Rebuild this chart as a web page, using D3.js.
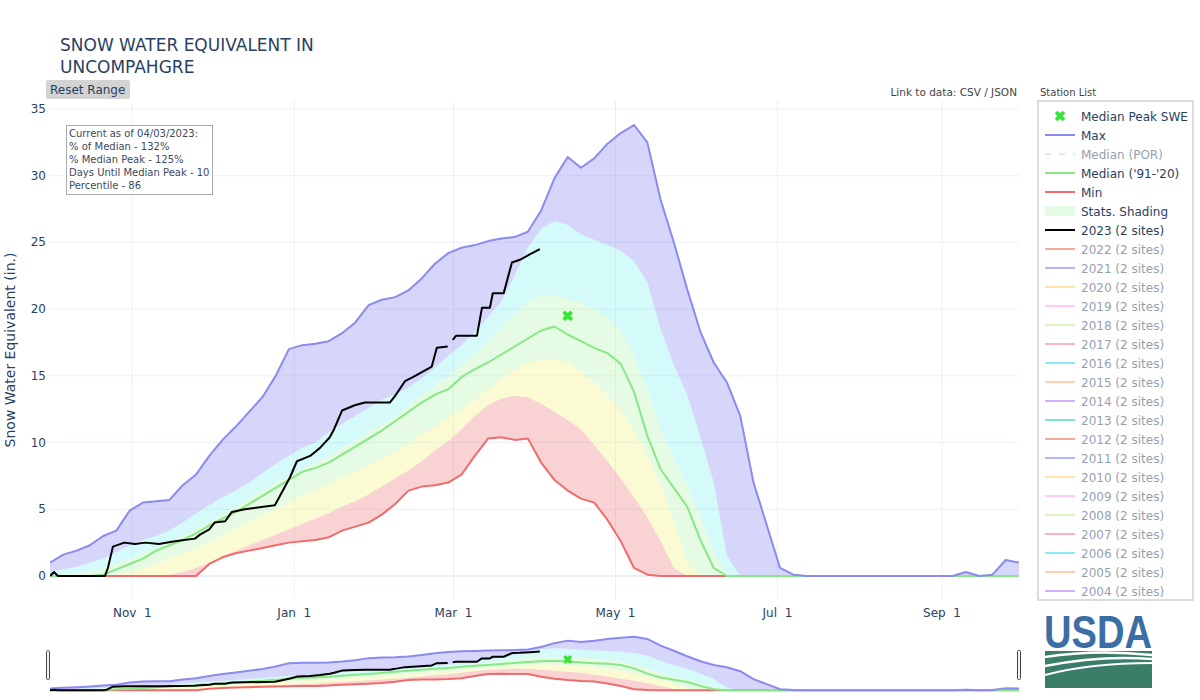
<!DOCTYPE html>
<html><head><meta charset="utf-8">
<script src="https://cdn.jsdelivr.net/npm/d3@7"></script>
<style>
body{margin:0;background:#fff;}
svg{font-family:"DejaVu Sans",Verdana,sans-serif;}
</style>
</head><body>
<svg id="c" width="1200" height="700"></svg>
<script>
// ---------- DATA (day = days since Oct 1 of the water year) ----------
const days = [0,5,10,15,20,25,30,35,40,45,
  50,55,60,65,70,75,80,85,90,95,
  100,105,110,115,120,125,130,135,140,145,
  150,155,160,165,170,175,180,185,190,195,
  200,205,210,215,220,225,230,235,240,245,
  250,255,260,265,270,275,280,285,290,295,
  300,305,310,315,320,325,330,335,340,345,
  350,355,360,365];
const maxSWE = [1.0,1.6,1.9,2.3,3.0,3.4,4.9,5.5,5.6,5.7,
  6.8,7.6,9.0,10.2,11.2,12.3,13.4,15.0,17.0,17.3,
  17.4,17.6,18.2,19.0,20.3,20.7,20.9,21.4,22.3,23.4,
  24.2,24.6,24.8,25.1,25.3,25.4,25.8,27.4,29.8,31.4,
  30.6,31.3,32.4,33.2,33.8,32.5,28.2,25.0,21.5,18.3,
  16.0,14.5,12.0,7.0,3.8,0.6,0.1,0,0,0,
  0,0,0,0,0,0,0,0,0,0.3,
  0,0.1,1.2,1.0];
const p90 = [0.3,0.5,0.7,1.0,1.3,1.8,2.3,2.7,3.0,3.4,
  4.0,4.7,5.3,5.9,6.4,7.0,7.7,8.4,9.0,9.6,
  10.0,10.8,11.4,12.0,12.6,13.2,13.6,14.1,14.8,15.6,
  16.5,17.3,18.3,19.4,20.6,22.5,24.6,26.0,26.6,26.3,
  25.6,25.2,24.8,24.4,23.6,22.0,18.5,15.8,13.6,10.4,
  7.0,1.5,0,0,0,0,0,0,0,0,
  0,0,0,0,0,0,0,0,0,0,
  0,0,0,0];
const p70 = [0,0.1,0.2,0.4,0.6,0.9,1.3,1.7,2.1,2.5,
  3.0,3.5,4.0,4.6,5.2,5.8,6.4,7.0,7.5,8.0,
  8.5,9.0,9.6,10.2,10.8,11.4,12.0,12.7,13.5,14.3,
  15.0,15.8,16.6,17.6,18.6,19.6,20.6,21.1,21.0,20.8,
  20.5,20.0,19.3,18.3,16.5,14.0,11.0,8.8,6.8,4.5,
  1.8,0,0,0,0,0,0,0,0,0,
  0,0,0,0,0,0,0,0,0,0,
  0,0,0,0];
const median = [0,0,0,0,0.1,0.5,0.9,1.3,1.9,2.3,
  2.7,3.2,3.8,4.3,4.8,5.4,6.0,6.6,7.2,7.8,
  8.1,8.5,9.1,9.7,10.3,10.9,11.6,12.3,13.0,13.6,
  14.0,14.9,15.5,16.0,16.6,17.2,17.8,18.4,18.7,18.1,
  17.6,17.1,16.7,15.9,13.8,10.5,8.0,6.6,5.2,2.7,
  0.6,0,0,0,0,0,0,0,0,0,
  0,0,0,0,0,0,0,0,0,0,
  0,0,0,0];
const p30 = [0,0,0,0,0,0.1,0.3,0.6,0.9,1.3,
  1.7,2.1,2.5,3.0,3.5,4.0,4.5,5.0,5.5,6.0,
  6.4,6.9,7.4,7.8,8.3,8.8,9.3,9.9,10.6,11.2,
  11.8,12.5,13.2,14.0,14.8,15.5,16.0,16.2,16.3,16.0,
  15.3,14.5,13.5,12.4,10.9,9.0,6.8,4.0,1.0,0,
  0,0,0,0,0,0,0,0,0,0,
  0,0,0,0,0,0,0,0,0,0,
  0,0,0,0];
const p10 = [0,0,0,0,0,0,0,0,0,0.1,
  0.3,0.6,1.0,1.5,1.9,2.3,2.7,3.1,3.5,3.9,
  4.3,4.7,5.2,5.6,6.1,6.7,7.3,7.9,8.6,9.4,
  10.1,11.0,12.0,12.8,13.3,13.5,13.4,12.9,12.3,11.7,
  11.0,9.8,8.6,7.3,5.9,4.4,2.6,0.6,0,0,
  0,0,0,0,0,0,0,0,0,0,
  0,0,0,0,0,0,0,0,0,0,
  0,0,0,0];
const minSWE = [0,0,0,0,0,0,0,0,0,0,
  0,0,0.9,1.4,1.7,1.9,2.1,2.3,2.5,2.6,
  2.7,2.9,3.4,3.7,4.0,4.6,5.4,6.4,6.7,6.8,
  7.0,7.6,9.0,10.3,10.4,10.2,10.3,8.5,7.2,6.4,
  5.8,5.5,4.2,2.6,0.6,0.1,0,0,0,0,
  0,0,0,0,0,0,0,0,0,0,
  0,0,0,0,0,0,0,0,0,0,
  0,0,0,0];
const days2023 = [0,1.5,3,20.7,21.8,23.7,28,32,36,41,47,54.6,56.5,60,62,66,68.5,73.4,84.7,86.6,
  90.4,93,98,101.7,105.4,107,110,114.8,118.6,128,130,133.7,136.7,143.8,145.7,149.8,150.7,151.7,152.9,160.8,
  162.7,165.7,166.8,170.9,174,177,180.7,184.5];
const swe2023 = [0,0.3,0,0,0.6,2.2,2.5,2.4,2.5,2.4,2.6,2.8,3.1,3.5,4.0,4.1,4.8,5.0,5.3,6.0,
  7.4,8.6,9.0,9.6,10.4,11.0,12.4,12.8,13.0,13.0,13.5,14.6,14.9,15.7,17.1,17.2,null,17.7,18.0,18.0,
  20.1,20.1,21.2,21.2,23.5,23.7,24.1,24.5];
const medianPeakDay = 195, medianPeakSWE = 19.5;

const xTickDates = ["2019-11-01","2020-01-01","2020-03-01","2020-05-01","2020-07-01","2020-09-01"];
const yTicks = [0,5,10,15,20,25,30,35];
const infoLines = ["Current as of 04/03/2023:","% of Median - 132%","% Median Peak - 125%","Days Until Median Peak - 10","Percentile - 86"];
const legendMain = ["Median Peak SWE","Max","Median (POR)","Median ('91-'20)","Min","Stats. Shading","2023 (2 sites)"];
const legendYears = [2022,2021,2020,2019,2018,2017,2016,2015,2014,2013,2012,2011,2010,2009,2008,2007,2006,2005,2004];
const yearColors = ["#EF553B","#636efa","#FECB52","#FF97FF","#B6E880","#FF6692","#19d3f3","#FFA15A","#ab63fa","#00cc96",
  "#EF553B","#636efa","#FECB52","#FF97FF","#B6E880","#FF6692","#19d3f3","#FFA15A","#ab63fa"];

// ---------- STYLE ----------
const C = {
  max:"#8a8af0", median:"#86e886", min:"#f06c6c", cur:"#000000", peak:"#33e633",
  bMax:"rgba(118,118,238,0.3)", b90:"rgba(112,238,238,0.3)", b70:"rgba(172,242,162,0.3)",
  b30:"rgba(242,242,108,0.3)", b10:"rgba(235,108,108,0.3)",
  grid:"#ebf0f8", text:"#2a3f5f"
};

const svg = d3.select("#c");
const start = new Date(2019,9,1);
const toDate = d => new Date(start.getTime() + d*86400000);
const x = d3.scaleTime().domain([start, new Date(2020,8,30)]).range([50,1019]);
const y = d3.scaleLinear().domain([-1.8,35.6]).range([600,101]);
const yMini = d3.scaleLinear().domain([-1.8,35.6]).range([693,634]);

const defs = svg.append("defs");
defs.append("clipPath").attr("id","clipMain").append("rect").attr("x",50).attr("y",101).attr("width",969).attr("height",499);
defs.append("clipPath").attr("id","clipMini").append("rect").attr("x",50).attr("y",632).attr("width",969).attr("height",62);

// gridlines
const grid = svg.append("g");
yTicks.forEach(t=>{
  grid.append("line").attr("x1",50).attr("x2",1019).attr("y1",y(t)).attr("y2",y(t))
    .attr("stroke",C.grid).attr("stroke-width", t===0?2:1);
});
xTickDates.forEach(s=>{
  const xx = x(d3.timeParse("%Y-%m-%d")(s));
  grid.append("line").attr("x1",xx).attr("x2",xx).attr("y1",101).attr("y2",600).attr("stroke",C.grid);
});

function drawAll(g, ys, isMini){
  const pts = arr => days.map((d,i)=>[d,arr[i]]);
  const line = d3.line().x(p=>x(toDate(p[0]))).y(p=>ys(p[1])).defined(p=>p[1]!==null);
  const band = (up, lo) => {
    const a = line(pts(up));
    const b = line(pts(lo).slice().reverse());
    return a + "L" + b.slice(1) + "Z";
  };
  g.append("path").attr("d",band(maxSWE,p90)).attr("fill",C.bMax);
  g.append("path").attr("d",band(p90,p70)).attr("fill",C.b90);
  g.append("path").attr("d",band(p70,p30)).attr("fill",C.b70);
  g.append("path").attr("d",band(p30,p10)).attr("fill",C.b30);
  g.append("path").attr("d",band(p10,minSWE)).attr("fill",C.b10);
  const ln = (arr,col) => g.append("path").attr("d",line(pts(arr))).attr("fill","none")
      .attr("stroke",col).attr("stroke-width",2).attr("stroke-linejoin","round");
  ln(minSWE,C.min);
  ln(median,C.median);
  ln(maxSWE,C.max);
  g.append("path").attr("d",line(days2023.map((d,i)=>[d,swe2023[i]]))).attr("fill","none")
    .attr("stroke",C.cur).attr("stroke-width",2).attr("stroke-linejoin","round");
  g.append("path").attr("d",d3.symbol(d3.symbolCross, isMini?50:70)())
    .attr("transform",`translate(${x(toDate(medianPeakDay))},${ys(medianPeakSWE)}) rotate(45)`)
    .attr("fill",C.peak);
}
drawAll(svg.append("g").attr("clip-path","url(#clipMain)"), y, false);
drawAll(svg.append("g").attr("clip-path","url(#clipMini)"), yMini, true);

// axes labels
const fmt = d3.timeFormat("%b %e");
const ax = svg.append("g").attr("font-size",12).attr("fill",C.text);
xTickDates.forEach(s=>{
  const dt = d3.timeParse("%Y-%m-%d")(s);
  ax.append("text").attr("x",x(dt)).attr("y",617).attr("text-anchor","middle")
    .attr("xml:space","preserve").style("white-space","pre").text(fmt(dt));
});
yTicks.forEach(t=>{
  ax.append("text").attr("x",46).attr("y",y(t)+4).attr("text-anchor","end").text(t);
});
svg.append("text").attr("transform","translate(15,350) rotate(-90)").attr("text-anchor","middle")
  .attr("font-size",14).attr("fill",C.text).text("Snow Water Equivalent (in.)");

// title
const tt = svg.append("text").attr("font-size",17).attr("fill",C.text);
tt.append("tspan").attr("x",60).attr("y",51).text("SNOW WATER EQUIVALENT IN");
tt.append("tspan").attr("x",60).attr("y",73).text("UNCOMPAHGRE");

// reset button
svg.append("rect").attr("x",46).attr("y",80).attr("width",84).attr("height",19).attr("rx",2).attr("fill","#d3d3d3");
svg.append("text").attr("x",50).attr("y",94).attr("font-size",12).attr("fill",C.text).text("Reset Range");

// link text & station list
svg.append("text").attr("x",1017).attr("y",96).attr("font-size",10.5).attr("text-anchor","end").attr("fill","#444").text("Link to data: CSV / JSON");
svg.append("text").attr("x",1040).attr("y",96).attr("font-size",10).attr("fill","#444").text("Station List");

// info box
svg.append("rect").attr("x",66.5).attr("y",125.5).attr("width",146).attr("height",69).attr("fill","#fff").attr("stroke","#aaa");
infoLines.forEach((t,i)=>svg.append("text").attr("x",69).attr("y",137+i*13).attr("font-size",10).attr("fill","#3c4a5e").text(t));

// legend
const lg = svg.append("g");
lg.append("rect").attr("x",1038).attr("y",101).attr("width",155).attr("height",499).attr("fill","#fff").attr("stroke","#dcdcdc").attr("stroke-width",2);
const rowY = i => 116 + i*19;
legendMain.forEach((name,i)=>{
  const yy = rowY(i);
  const hidden = name==="Median (POR)";
  const it = lg.append("g").attr("opacity", hidden?0.5:1);
  if(i===0){
    it.append("path").attr("d",d3.symbol(d3.symbolCross,70)()).attr("transform",`translate(1060,${yy}) rotate(45)`).attr("fill",C.peak);
  } else if(name==="Stats. Shading"){
    it.append("rect").attr("x",1045).attr("y",yy-5).attr("width",30).attr("height",10).attr("fill","#e6fbe6");
  } else {
    const col = {"Max":C.max,"Median (POR)":"#a8f0a8","Median ('91-'20)":C.median,"Min":C.min,"2023 (2 sites)":C.cur}[name];
    it.append("line").attr("x1",1045).attr("x2",1075).attr("y1",yy).attr("y2",yy).attr("stroke",col).attr("stroke-width",2)
      .attr("stroke-dasharray", hidden?"6,8":null);
  }
  it.append("text").attr("x",1081).attr("y",yy+4.5).attr("font-size",12).attr("fill",C.text).text(name);
});
legendYears.forEach((yr,j)=>{
  const yy = rowY(legendMain.length + j);
  const it = lg.append("g").attr("opacity",0.5);
  it.append("line").attr("x1",1045).attr("x2",1075).attr("y1",yy).attr("y2",yy).attr("stroke",yearColors[j]).attr("stroke-width",2);
  it.append("text").attr("x",1081).attr("y",yy+4.5).attr("font-size",12).attr("fill",C.text).text(`${yr} (2 sites)`);
});

// rangeslider handles
[46.5,1017.5].forEach(hx=>{
  svg.append("rect").attr("x",hx).attr("y",650.5).attr("width",3).attr("height",29).attr("rx",1)
    .attr("fill","#f2f2f2").attr("stroke","#444").attr("stroke-width",1);
});

// USDA logo
const logo = svg.append("g");
logo.append("text").attr("x",1044).attr("y",648).attr("font-size",46).attr("font-weight","bold")
  .attr("font-family","Liberation Sans, Arial, sans-serif")
  .attr("textLength",108).attr("lengthAdjust","spacingAndGlyphs").attr("fill","#3a6ea5").text("USDA");
logo.append("rect").attr("x",1045).attr("y",651).attr("width",107).attr("height",37).attr("fill","#3a7d68");
logo.append("path").attr("d","M1045,657 Q1095,649 1152,655").attr("stroke","#fff").attr("stroke-width",2.5).attr("fill","none");
logo.append("path").attr("d","M1045,666 Q1100,655 1152,659").attr("stroke","#fff").attr("stroke-width",2.5).attr("fill","none");
logo.append("path").attr("d","M1045,675 Q1090,663 1152,663").attr("stroke","#fff").attr("stroke-width",2).attr("fill","none");
</script>
</body></html>
